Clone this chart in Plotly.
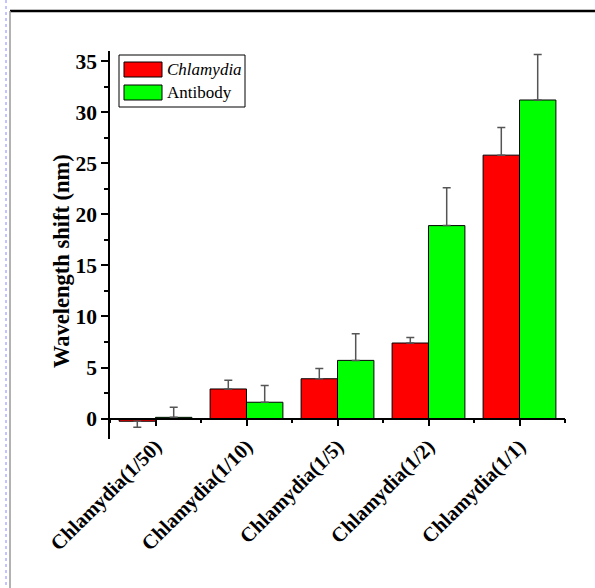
import plotly.graph_objects as go

categories = ["Chlamydia(1/50)", "Chlamydia(1/10)", "Chlamydia(1/5)", "Chlamydia(1/2)", "Chlamydia(1/1)"]
chlamydia = [-0.26, 2.9, 3.9, 7.4, 25.8]
chlamydia_err_plus = [0.0, 0.85, 1.0, 0.55, 2.7]
chlamydia_err_minus = [0.6, 0.0, 0.0, 0.0, 0.0]
antibody = [0.12, 1.6, 5.7, 18.9, 31.2]
antibody_err = [1.0, 1.65, 2.6, 3.7, 4.45]
y_ticks = [0, 5, 10, 15, 20, 25, 30, 35]

FONT = "Liberation Serif"
x_pos = list(range(len(categories)))

fig = go.Figure()
fig.add_trace(go.Bar(
    x=x_pos, y=chlamydia, name="Chlamydia",
    marker=dict(color="#FF0000", line=dict(color="black", width=1)),
    error_y=dict(type="data", symmetric=False, array=chlamydia_err_plus,
                 arrayminus=chlamydia_err_minus, color="#555555", thickness=1.5, width=4),
    showlegend=False,
))
fig.add_trace(go.Bar(
    x=x_pos, y=antibody, name="Antibody",
    marker=dict(color="#00FF00", line=dict(color="black", width=1)),
    error_y=dict(type="data", symmetric=False, array=antibody_err,
                 arrayminus=[0] * len(antibody), color="#555555", thickness=1.5, width=4),
    showlegend=False,
))

L, R, T, B = 110, 30, 51, 149
W, H = 595, 588
pw, ph = W - L - R, H - T - B

def px(xp):
    return (xp - L) / pw

def py(yp):
    return (H - B - yp) / ph

shapes = []
# page frame decorations
shapes.append(dict(type="line", xref="paper", yref="paper", x0=px(10), x1=px(600), y0=py(11), y1=py(11),
                   line=dict(color="black", width=2.5)))
shapes.append(dict(type="line", xref="paper", yref="paper", x0=px(10), x1=px(10), y0=py(11), y1=py(600),
                   line=dict(color="#999999", width=1.5)))
shapes.append(dict(type="line", xref="paper", yref="paper", x0=px(6), x1=px(6), y0=py(0), y1=py(600),
                   line=dict(color="#8888ff", width=1, dash="dot")))
# legend
shapes.append(dict(type="rect", xref="paper", yref="paper", x0=px(119), x1=px(245), y0=py(55), y1=py(107),
                   line=dict(color="black", width=1), fillcolor="white"))
shapes.append(dict(type="rect", xref="paper", yref="paper", x0=px(124), x1=px(162), y0=py(62), y1=py(77),
                   line=dict(color="black", width=1), fillcolor="#FF0000"))
shapes.append(dict(type="rect", xref="paper", yref="paper", x0=px(124), x1=px(162), y0=py(85), y1=py(100),
                   line=dict(color="black", width=1), fillcolor="#00FF00"))

annotations = [
    dict(xref="paper", yref="paper", x=px(165), y=py(69.5), text="<i>Chlamydia</i>", showarrow=False,
         xanchor="left", yanchor="middle", font=dict(family=FONT, size=17, color="black")),
    dict(xref="paper", yref="paper", x=px(165), y=py(92.5), text="Antibody", showarrow=False,
         xanchor="left", yanchor="middle", font=dict(family=FONT, size=17, color="black")),
    dict(xref="paper", yref="paper", x=px(61), y=py(261), text="Wavelength shift (nm)", showarrow=False,
         textangle=-90, xanchor="center", yanchor="middle",
         font=dict(family=FONT, size=22.5, color="black", weight="bold")),
]

fig.update_layout(
    width=W, height=H,
    margin=dict(l=L, r=R, t=T, b=B, autoexpand=False),
    paper_bgcolor="white", plot_bgcolor="white",
    barmode="group", bargap=0.2, bargroupgap=0,
    shapes=shapes, annotations=annotations,
    font=dict(family=FONT, color="black"),
)
fig.update_xaxes(
    range=[-0.5, 4.5], tickvals=x_pos, ticktext=categories, tickangle=-45,
    anchor="free", position=2 / 38,
    showline=True, linecolor="black", linewidth=1.5, mirror=False,
    ticks="outside", ticklen=7, tickwidth=1.5, tickcolor="black",
    minor=dict(tick0=0.5, dtick=1, ticks="outside", ticklen=4, tickwidth=1.5, tickcolor="black"),
    showgrid=False, zeroline=False,
    tickfont=dict(family=FONT, size=20.5, color="black", weight="bold"),
)
fig.update_yaxes(
    range=[-2, 36], tickvals=y_ticks,
    showline=True, linecolor="black", linewidth=1.5,
    ticks="outside", ticklen=7, tickwidth=1.5, tickcolor="black",
    minor=dict(tick0=2.5, dtick=5, ticks="outside", ticklen=4, tickwidth=1.5, tickcolor="black"),
    showgrid=False, zeroline=False,
    tickfont=dict(family=FONT, size=21.5, color="black", weight="bold"),
)

fig.write_html("out.html", config={"displayModeBar": False},
               post_script="document.body.style.margin='0px';")
